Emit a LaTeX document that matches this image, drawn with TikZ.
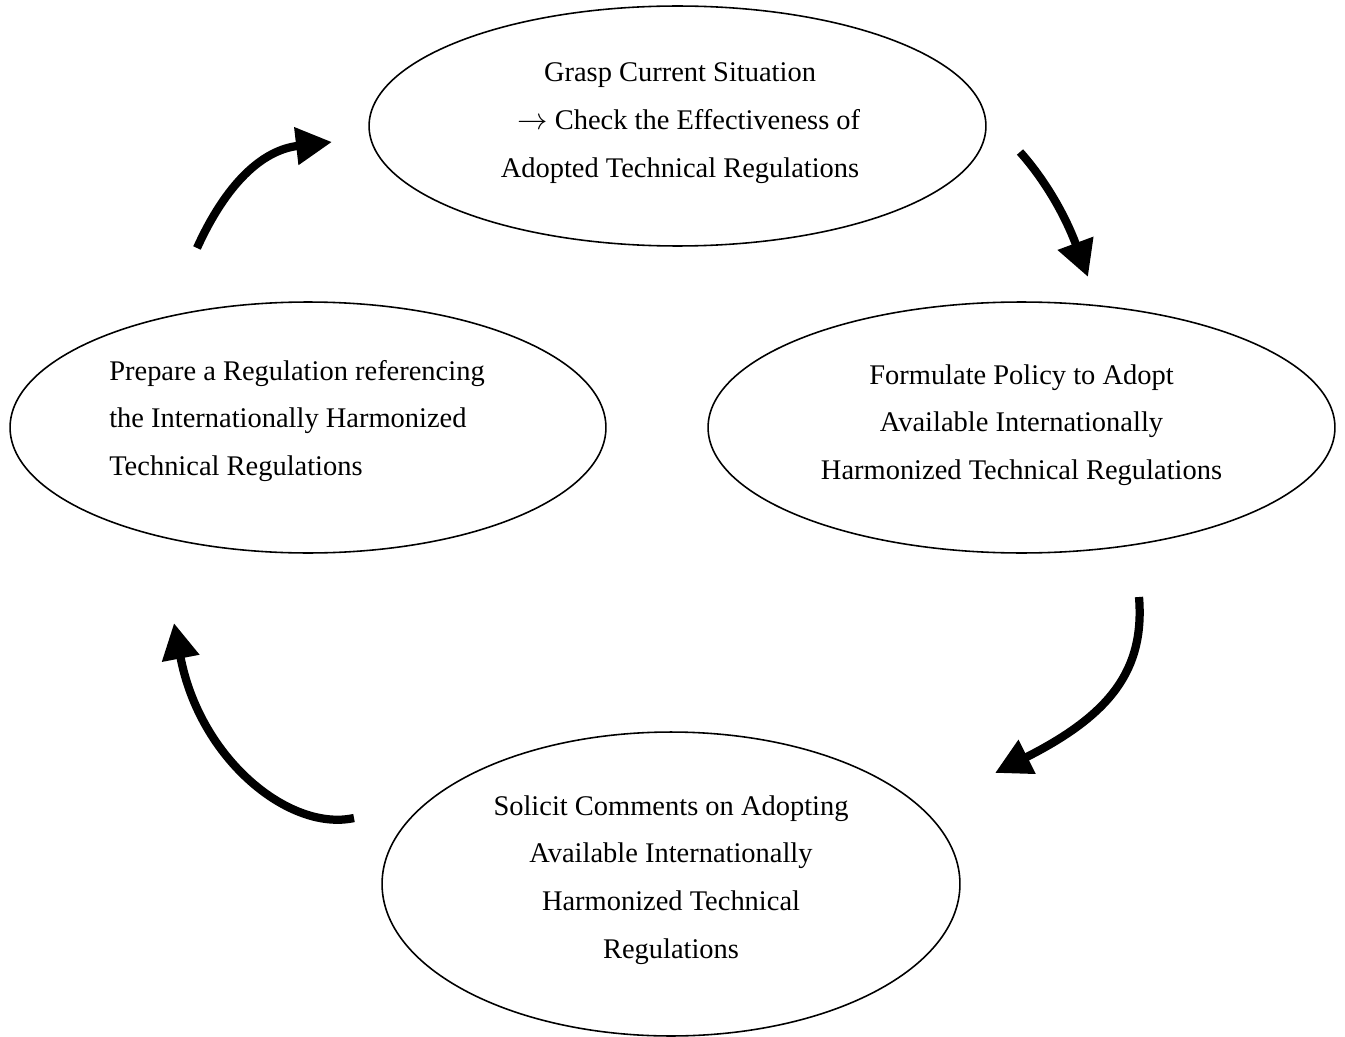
\documentclass[tikz,border=0pt]{standalone}
\usepackage{fontspec}
\setmainfont{Liberation Serif}
\usetikzlibrary{arrows.meta,shapes.geometric}
\begin{document}
\begin{tikzpicture}[x=0.02cm,y=-0.02cm,
  bubble/.style={draw, ellipse, line width=0.9pt, inner sep=0pt},
  label/.style={align=center, font=\fontsize{16.2pt}{27.2pt}\selectfont, inner sep=0pt},
  cycle/.style={line width=0.165cm, -{Triangle[length=0.72cm,width=0.72cm]}}]
\useasboundingbox (0,0) rectangle (1345,1037);

% the four stages of the cycle
\node[bubble, minimum width=12.34cm, minimum height=4.8cm] (grasp) at (677.5,126) {};
\node[bubble, minimum width=12.54cm, minimum height=5.02cm] (policy) at (1021.5,427.5) {};
\node[bubble, minimum width=11.56cm, minimum height=6.08cm] (comments) at (671,884) {};
\node[bubble, minimum width=11.92cm, minimum height=5.02cm] (prepare) at (308,427.5) {};

\node[label] (graspT) at (680,123) {Grasp Current Situation\\ \hspace*{0.35cm}$\rightarrow$ Check the Effectiveness of\\Adopted Technical Regulations};
\node[label] (policyT) at (1021.5,425) {Formulate Policy to Adopt\\Available Internationally\\Harmonized Technical Regulations};
\node[label] (commentsT) at (671,880) {Solicit Comments on Adopting\\Available Internationally\\Harmonized Technical\\Regulations};
\node[label, align=left] (prepareT) at (297,421) {Prepare a Regulation referencing\\the Internationally Harmonized\\Technical Regulations};

% arrows between the stages
\coordinate (a1s) at (197,248);  \coordinate (a1e) at (332,142);
\coordinate (a2s) at (1020,152); \coordinate (a2e) at (1088,277);
\coordinate (a3s) at (1139,597); \coordinate (a3e) at (995,773);
\coordinate (a4s) at (354,818);  \coordinate (a4e) at (174,623);

\draw[cycle] (a1s) .. controls (226,184) and (262,150) .. (a1e);
\draw[cycle] (a2s) .. controls (1045,180) and (1065,215) .. (a2e);
\draw[cycle] (a3s) .. controls (1145,670) and (1110,715) .. (a3e);
\draw[cycle] (a4s) .. controls (290,832) and (200,760) .. (a4e);
\end{tikzpicture}
\end{document}
